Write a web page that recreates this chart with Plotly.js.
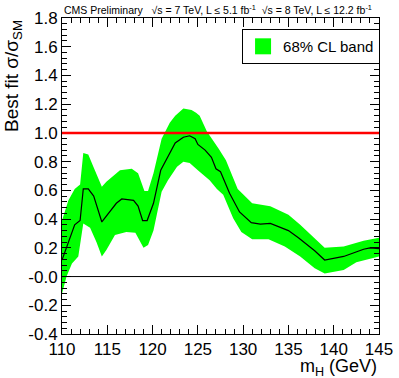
<!DOCTYPE html>
<html>
<head>
<meta charset="utf-8">
<script src="https://cdn.plot.ly/plotly-3.0.1.min.js"></script>
<style>html,body{margin:0;padding:0;background:#fff;}#chart{width:399px;height:378px;}</style>
</head>
<body>
<div id="chart"></div>
<script>
// Best-fit signal strength vs Higgs mass
const massCentral = [110, 110.3, 110.9, 111.4, 112.0, 112.35, 112.9, 113.5, 114.4, 114.9, 116.0, 116.6, 117.9, 118.4, 118.9, 119.4, 120.1, 120.9, 121.9, 122.5, 123.4, 124.1, 124.7, 125.0, 125.8, 126.5, 127.0, 127.5, 128.5, 129.6, 130.9, 131.9, 133.0, 135.0, 136.1, 137.9, 139.0, 141.1, 143.3, 144.0, 145.0];
const muCentral = [0.115, 0.17, 0.28, 0.36, 0.39, 0.61, 0.61, 0.56, 0.38, 0.42, 0.51, 0.54, 0.53, 0.49, 0.39, 0.39, 0.51, 0.74, 0.86, 0.93, 0.97, 0.98, 0.96, 0.92, 0.88, 0.83, 0.75, 0.73, 0.58, 0.45, 0.375, 0.365, 0.37, 0.32, 0.27, 0.18, 0.115, 0.14, 0.19, 0.20, 0.195];

const massUpper = [110, 110.7, 111.4, 112.0, 112.35, 112.9, 113.5, 114.4, 114.9, 116.4, 117.7, 118.4, 119.1, 119.5, 120.1, 121.0, 121.9, 122.5, 123.4, 124.3, 124.8, 125.2, 126.0, 126.7, 127.3, 128.1, 129.4, 131.0, 133.0, 135.0, 136.3, 139.0, 141.1, 143.3, 145.0];
const muUpper = [0.39, 0.53, 0.61, 0.64, 0.86, 0.85, 0.76, 0.625, 0.66, 0.74, 0.75, 0.72, 0.595, 0.595, 0.72, 0.96, 1.07, 1.12, 1.17, 1.16, 1.14, 1.12, 1.01, 0.95, 0.89, 0.81, 0.61, 0.51, 0.49, 0.43, 0.36, 0.20, 0.21, 0.25, 0.27];

const massLower = [110, 110.5, 111.1, 111.8, 112.35, 113.1, 113.8, 114.4, 114.9, 115.85, 117.1, 118.1, 119.0, 119.5, 120.1, 121.0, 121.7, 122.7, 123.4, 124.1, 125.0, 126.3, 127.1, 127.8, 128.9, 129.8, 131.0, 132.8, 134.6, 136.3, 137.9, 139.0, 141.1, 142.5, 145.0];
const muLower = [-0.12, 0.0, 0.09, 0.14, 0.37, 0.34, 0.24, 0.14, 0.185, 0.29, 0.31, 0.305, 0.20, 0.22, 0.32, 0.59, 0.67, 0.765, 0.80, 0.79, 0.74, 0.67, 0.61, 0.57, 0.405, 0.31, 0.26, 0.26, 0.21, 0.14, 0.057, 0.022, 0.045, 0.10, 0.14];

const yTickVals = [-0.4, -0.2, 0.0, 0.2, 0.4, 0.6, 0.8, 1.0, 1.2, 1.4, 1.6, 1.8];
const yTickText = ["-0.4", "-0.2", "-0.0", "0.2", "0.4", "0.6", "0.8", "1.0", "1.2", "1.4", "1.6", "1.8"];
const xTickVals = [110, 115, 120, 125, 130, 135, 140, 145];
const smValue = 1.0;
const legendLabel = "68% CL band";

const GREEN = "#00ff00";
const FONT = "Liberation Sans, Arial, Helvetica, sans-serif";

const bandX = massUpper.concat(massLower.slice().reverse());
const bandY = muUpper.concat(muLower.slice().reverse());

const traces = [
  {x: bandX, y: bandY, type: "scatter", mode: "lines", fill: "toself",
   fillcolor: GREEN, line: {width: 0, color: GREEN}, showlegend: false, hoverinfo: "skip"},
  {x: massCentral, y: muCentral, type: "scatter", mode: "lines",
   line: {color: "#000", width: 1.2}, showlegend: false},
  {x: [null], y: [null], type: "scatter", mode: "markers", name: legendLabel,
   marker: {symbol: "square", size: 20, color: GREEN}, showlegend: true}
];

const axisCommon = {
  showgrid: false, zeroline: false, showline: true, linecolor: "#000", linewidth: 1,
  mirror: "ticks", ticks: "inside", tickcolor: "#000",
  tickfont: {family: FONT, size: 17, color: "#000"}
};

const layout = {
  width: 399, height: 378,
  margin: {l: 62, r: 20, t: 18, b: 44},
  paper_bgcolor: "#fff", plot_bgcolor: "#fff",
  font: {family: FONT, color: "#000"},
  xaxis: Object.assign({}, axisCommon, {
    range: [110, 145], tickvals: xTickVals, ticktext: xTickVals.map(String), ticklen: 9,
    minor: {dtick: 1, tick0: 110, ticklen: 5, ticks: "inside", tickcolor: "#000", showgrid: false}
  }),
  yaxis: Object.assign({}, axisCommon, {
    range: [-0.4, 1.8], tickvals: yTickVals, ticktext: yTickText, ticklen: 9,
    minor: {dtick: 0.04, tick0: 0, ticklen: 5, ticks: "inside", tickcolor: "#000", showgrid: false}
  }),
  shapes: [
    {type: "line", xref: "paper", x0: 0, x1: 1, yref: "y", y0: smValue, y1: smValue,
     line: {color: "#ff0000", width: 2.5}},
    {type: "line", xref: "paper", x0: 0, x1: 1, yref: "y", y0: 0, y1: 0,
     line: {color: "#000", width: 1}}
  ],
  showlegend: true,
  legend: {x: 0.568, y: 0.965, xanchor: "left", yanchor: "top",
    bgcolor: "#fff", bordercolor: "#000", borderwidth: 1, tracegroupgap: 0,
    font: {family: FONT, size: 15, color: "#000"}, itemwidth: 30},
  annotations: [
    {xref: "paper", yref: "paper", x: 0, y: 1, xanchor: "left", yanchor: "bottom", yshift: 0,
     showarrow: false, font: {family: FONT, size: 10.5, color: "#000"},
     text: "CMS Preliminary   √s = 7 TeV, L ≤ 5.1 fb<sup>-1</sup>  √s = 8 TeV, L ≤ 12.2 fb<sup>-1</sup>"},
    {xref: "paper", yref: "paper", x: 0, y: 1, xanchor: "right", yanchor: "top", xshift: -35,
     textangle: -90, showarrow: false, font: {family: FONT, size: 19, color: "#000"},
     text: "Best fit σ/σ<sub>SM</sub>"},
    {xref: "paper", yref: "paper", x: 1, y: 0, xanchor: "right", yanchor: "top", yshift: -20,
     showarrow: false, font: {family: FONT, size: 18, color: "#000"},
     text: "m<sub>H</sub> (GeV)"}
  ]
};

Plotly.newPlot("chart", traces, layout, {displayModeBar: false, staticPlot: true});
</script>
</body>
</html>
